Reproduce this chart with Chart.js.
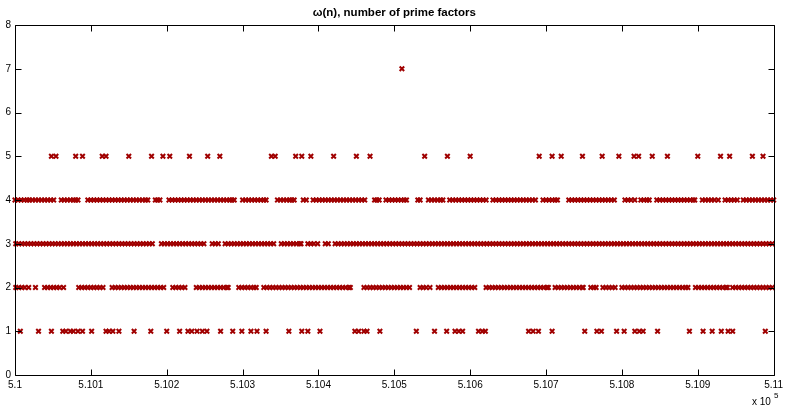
<!DOCTYPE html>
<html>
<head>
<meta charset="utf-8">
<script src="https://cdn.jsdelivr.net/npm/chart.js@4"></script>
<style>
  html, body { margin: 0; padding: 0; background: #fff; }
  #wrap { width: 787px; height: 407px; }
</style>
</head>
<body>
<div id="wrap"><canvas id="myChart" width="787" height="407"></canvas></div>
<script>
"use strict"

// n = 510000 + offset, offsets
const base = 510000;

// omega(n) = 1 (primes)
const omega1 = [7, 31, 48, 63, 67, 73, 77, 83, 89, 101, 120, 124, 129, 137, 157, 179, 200, 217, 228, 233,
    240, 247, 253, 271, 287, 299, 311, 319, 331, 361, 378, 386, 402, 448, 453, 460, 464, 481, 529, 553,
    569, 580, 585, 590, 611, 616, 620, 677, 683, 690, 708, 751, 767, 773, 793, 803, 817, 823, 828, 847,
    889, 907, 919, 931, 940, 946, 989];

// omega(n) = 2
const omega2 = [1, 5, 9, 13, 18, 27, 39, 43, 47, 51, 55, 59, 64,
    84, 88, 92, 96, 100, 104, 108, 112, 116,
    128, 132, 136, 140, 144, 148, 152, 156, 160, 164, 168, 172, 176, 180, 184, 188, 192, 196,
    208, 212, 216, 220, 224,
    239, 243, 247, 251, 255, 259, 263, 267, 271, 275, 279, 281,
    295, 299, 303, 307, 311, 315, 318,
    328, 332, 336, 340, 344, 348, 352, 356, 360, 364, 368, 372, 376, 380, 384, 388, 392, 396, 400, 404,
    408, 412, 416, 420, 424, 428, 432, 436, 440, 442,
    460, 464, 468, 472, 476, 480, 484, 488, 492, 496, 500, 504, 508, 512, 516, 520,
    534, 538, 542, 547,
    558, 562, 566, 570, 574, 578, 582, 586, 590, 594, 598, 602, 606,
    621, 625, 629, 633, 637, 641, 645, 649, 653, 657, 661, 665, 669, 673, 677, 681, 685, 689, 693, 697, 701, 703,
    712, 716, 720, 724, 728, 732, 736, 740, 744, 748, 749,
    759, 763, 766,
    775, 779, 783, 787, 791,
    800, 804, 808, 812, 816, 820, 824, 828, 832, 836, 840, 844, 848, 852, 856, 860, 864, 868, 872, 876, 880, 884, 887,
    897, 901, 905, 909, 913, 917, 921, 925, 929, 933, 937, 939,
    946, 950, 954, 958, 962, 966, 970, 974, 978, 982, 986, 990, 994, 998];

// omega(n) = 3
const omega3 = [1, 5, 9, 13, 17, 21, 25, 29, 33, 37, 41, 45, 49, 53, 57, 61, 65, 69, 73, 77, 81, 85, 89, 93, 97,
    101, 105, 109, 113, 117, 121, 125, 129, 133, 137, 141, 145, 149, 153, 157, 161, 165, 169, 173, 177, 181,
    193, 197, 201, 205, 209, 213, 217, 221, 225, 229, 233, 237, 241, 245, 249,
    260, 264, 268,
    277, 281, 285, 289, 293, 297, 301, 305, 309, 313, 317, 321, 325, 329, 333, 337, 341,
    351, 355, 359, 363, 367, 371, 375, 377,
    386, 390, 394, 399,
    409, 413,
    422, 426, 430, 434, 438, 442, 446, 450, 454, 458, 462, 466, 470, 474, 478, 482, 486, 490, 494, 498,
    502, 506, 510, 514, 518, 522, 526, 530, 534, 538, 542, 546, 550, 554, 558, 562, 566, 570, 574, 578,
    582, 586, 590, 594, 598, 602, 606, 610, 614, 618, 622, 626, 630, 634, 638, 642, 646, 650, 654, 658,
    662, 666, 670, 674, 678, 682, 686, 690, 694, 698, 702, 706, 710, 714, 718, 722, 726, 730, 734, 738,
    742, 746, 750, 754, 758, 762, 766, 770, 774, 778, 782, 786, 790, 794, 798, 802, 806, 810, 814, 818,
    822, 826, 830, 834, 838, 842, 846, 850, 854, 858, 862, 866, 870, 874, 878, 882, 886, 890, 894, 898,
    902, 906, 910, 914, 918, 922, 926, 930, 934, 938, 942, 946, 950, 954, 958, 962, 966, 970, 974, 978,
    982, 986, 990, 994, 998];

// omega(n) = 4
const omega4 = [0, 4, 8, 12, 16, 19, 23, 27, 31, 35, 39, 43, 47, 51,
    61, 65, 69, 73, 77, 80, 83,
    96, 100, 104, 108, 112, 116, 120, 124, 128, 132, 136, 140, 144, 148, 152, 156, 160, 164, 168, 172, 175,
    185, 188, 191,
    203, 207, 211, 215, 219, 223, 227, 231, 235, 239, 243, 247, 251, 255, 259, 263, 267, 271, 275, 279, 283, 286, 289,
    300, 304, 308, 312, 316, 320, 324, 328, 331,
    346, 350, 354, 358, 362, 365, 368,
    380, 384,
    393, 397, 401, 405, 409, 413, 417, 421, 425, 429, 433, 437, 441, 445, 449, 453, 457, 461,
    474, 477, 480,
    489, 493, 497, 501, 505, 509, 513, 516,
    531, 534,
    545, 549, 553, 557, 561, 564,
    573, 577, 581, 585, 589, 593, 597, 601, 605, 609, 613, 617, 621,
    630, 634, 638, 642, 646, 650, 654, 658, 662, 666, 670, 674, 678, 682, 686,
    696, 700, 704, 708, 712, 715,
    730, 734, 738, 742, 746, 750, 754, 758, 762, 766, 770, 774, 778, 782, 786, 790,
    804, 808, 812, 817,
    825, 829, 833, 836,
    846, 850, 854, 858, 862, 866, 870, 874, 878, 882, 886, 890, 894, 896,
    906, 910, 914, 918, 922, 927,
    936, 940, 944, 948, 952,
    960, 964, 968, 972, 976, 980, 984, 988, 992, 996, 1000];

// omega(n) = 5
const omega5 = [48, 54, 80, 89, 115, 120, 150, 180, 195, 204, 230, 254, 270, 338, 343, 370, 378, 390, 420,
    450, 468, 540, 570, 600, 691, 708, 720, 748, 774, 796, 816, 822, 840, 860, 900, 930, 942, 972, 986];

// omega(n) = 7  (510510 = 2*3*5*7*11*13*17)
const omega7 = [510];

const xTicks = [5.1, 5.101, 5.102, 5.103, 5.104, 5.105, 5.106, 5.107, 5.108, 5.109, 5.11];
const yTicks = [0, 1, 2, 3, 4, 5, 6, 7, 8];
const titleText = 'ω(n), number of prime factors';

const markColor = 'rgb(160, 0, 0)';

function toPoints(offsets, level) {
    return offsets.map(o => ({ x: base + o, y: level }));
}

let data = {
    datasets: [
        [omega1, 1], [omega2, 2], [omega3, 3], [omega4, 4], [omega5, 5], [omega7, 7]
    ].map(([arr, lvl]) => ({
        data: toPoints(arr, lvl),
        pointStyle: 'crossRot',
        pointRadius: 3.2,
        borderWidth: 2,
        borderColor: markColor,
        backgroundColor: markColor,
        showLine: false,
        clip: false
    }))
};

// box + inward ticks on all four sides, title and the x 10^5 note
const matlabAxes = {
    id: 'matlabAxes',
    afterDraw(chart) {
        const ctx = chart.ctx;
        const a = chart.chartArea;
        const xs = chart.scales.x, ys = chart.scales.y;
        const L = Math.round(a.left) + 0.5, R = Math.round(a.right) + 0.5;
        const T = Math.round(a.top) + 0.5, B = Math.round(a.bottom) + 0.5;
        const tl = 6;
        ctx.save();
        ctx.strokeStyle = '#000';
        ctx.lineWidth = 1;
        ctx.beginPath();
        ctx.rect(L, T, R - L, B - T);
        xTicks.forEach(t => {
            const px = Math.round(xs.getPixelForValue(t * 1e5)) + 0.5;
            ctx.moveTo(px, B); ctx.lineTo(px, B - tl);
            ctx.moveTo(px, T); ctx.lineTo(px, T + tl);
        });
        yTicks.forEach(t => {
            const py = Math.round(ys.getPixelForValue(t)) + 0.5;
            ctx.moveTo(L, py); ctx.lineTo(L + tl, py);
            ctx.moveTo(R, py); ctx.lineTo(R - tl, py);
        });
        ctx.stroke();

        ctx.fillStyle = '#000';
        ctx.textAlign = 'center';
        ctx.textBaseline = 'middle';
        ctx.font = 'bold 11.5px "Liberation Sans", Arial, sans-serif';
        ctx.fillText(titleText, (a.left + a.right) / 2, 13);

        ctx.textBaseline = 'alphabetic';
        ctx.textAlign = 'left';
        ctx.font = '10px "Liberation Sans", Arial, sans-serif';
        ctx.fillText('x 10', 752, 405);
        ctx.font = '8px "Liberation Sans", Arial, sans-serif';
        ctx.fillText('5', 774, 398);
        ctx.restore();
    }
};

let config = {
    type: 'scatter',
    data: data,
    options: {
        responsive: false,
        devicePixelRatio: 1,
        animation: false,
        events: [],
        layout: { padding: { top: 25, right: 11, bottom: 0, left: 0 } },
        scales: {
            x: {
                type: 'linear',
                min: 510000,
                max: 511000,
                afterFit: (s) => { s.height = 32; },
                afterBuildTicks: (s) => { s.ticks = xTicks.map(t => ({ value: t * 1e5 })); },
                grid: { display: false, drawTicks: false },
                border: { display: false },
                ticks: {
                    autoSkip: false,
                    maxRotation: 0,
                    padding: 4,
                    color: '#000',
                    font: { family: '"Liberation Sans", Arial, sans-serif', size: 10 },
                    callback: (v) => String(Number((v / 1e5).toFixed(3)))
                }
            },
            y: {
                min: 0,
                max: 8,
                afterFit: (s) => { s.width = 15; },
                afterBuildTicks: (s) => { s.ticks = yTicks.map(t => ({ value: t })); },
                grid: { display: false, drawTicks: false },
                border: { display: false },
                ticks: {
                    padding: 4,
                    color: '#000',
                    font: { family: '"Liberation Sans", Arial, sans-serif', size: 10 }
                }
            }
        },
        plugins: {
            legend: { display: false },
            tooltip: { enabled: false },
            title: { display: false }
        }
    },
    plugins: [matlabAxes]
};

let myChart = new Chart(document.getElementById('myChart'), config);
</script>
</body>
</html>
